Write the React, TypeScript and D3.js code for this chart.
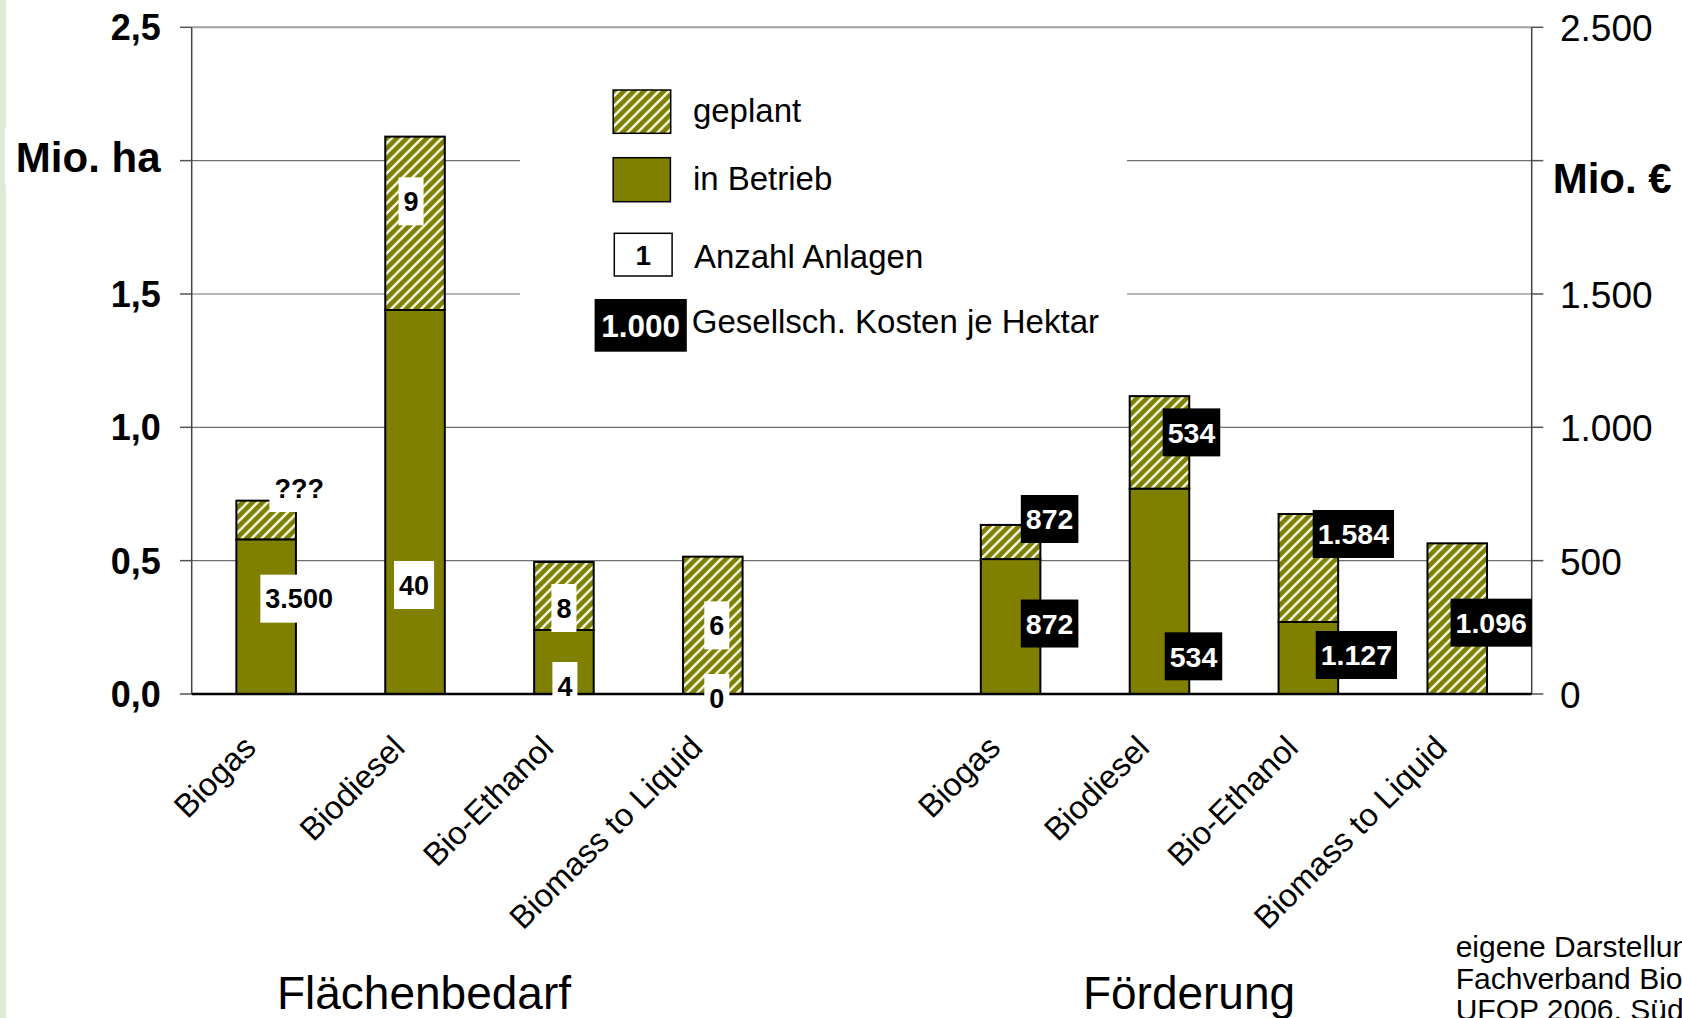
import React, { useEffect, useRef } from 'react';
import * as d3 from 'd3';

const W = 1682;
const H = 1018;

// categories per group
const categories = ['Biogas', 'Biodiesel', 'Bio-Ethanol', 'Biomass to Liquid'];
const groupNames = ['Flächenbedarf', 'Förderung'];

// Flächenbedarf (Mio. ha)
const areaInOperation = [0.58, 1.44, 0.24, 0];
const areaPlanned = [0.145, 0.65, 0.255, 0.515];

// Förderung (Mio. €)
const fundingInOperation = [506, 770, 270, 0];
const fundingPlanned = [128, 347, 405, 565];

// Anzahl Anlagen (white boxes)
const plantsInOperation = ['3.500', '40', '4', '0'];
const plantsPlanned = ['???', '9', '8', '6'];

// Gesellsch. Kosten je Hektar (black boxes)
const costInOperation = ['872', '534', '1.127', ''];
const costPlanned = ['872', '534', '1.584', '1.096'];

const leftTicks = [0, 0.5, 1.0, 1.5, 2.0, 2.5];
const rightTicks = [0, 500, 1000, 1500, 2000, 2500];

// label placement: [dx from bar centre, dy from segment middle]
const plantOffsetsOp = [[33, -18], [-1, 83], [1, 24], [4, 4]];
const plantOffsetsPl = [[33, -32], [-4, -22], [0, 12], [4, 0]];
const costOffsetsOp = [[39, -3], [34, 65], [48, -3], [0, 0]];
const costOffsetsPl = [[39, -23], [32, -10], [45, -34], [34, 4]];

const OLIVE = '#808000';
const FONT = '"Liberation Sans", Arial, Helvetica, sans-serif';

export default function App() {
  const svgRef = useRef<SVGSVGElement>(null);

  useEffect(() => {
    if (!svgRef.current) return;
    const svg = d3.select(svgRef.current);
    svg.selectAll('*').remove();
    svg.style('font-family', FONT);

    const de = d3.formatLocale({ decimal: ',', thousands: '.', grouping: [3], currency: ['', ' €'] });
    const fmtLeft = de.format('.1f');
    const fmtRight = de.format(',d');

    const plotLeft = 191.7;
    const plotRight = 1531.7;
    const plotTop = 27.3;
    const plotBottom = 694;

    // 4 + gap + 4 slots
    const slots = [...categories.map((_, i) => `L${i}`), 'gap', ...categories.map((_, i) => `R${i}`)];
    const x = d3.scaleBand().domain(slots).range([plotLeft, plotRight]).paddingInner(0.6).paddingOuter(0.3);
    const yL = d3.scaleLinear().domain([0, 2.5]).range([plotBottom, plotTop]);
    const yR = d3.scaleLinear().domain([0, 2500]).range([plotBottom, plotTop]);

    // hatch pattern
    const defs = svg.append('defs');
    const pat = defs.append('pattern')
      .attr('id', 'hatch')
      .attr('patternUnits', 'userSpaceOnUse')
      .attr('width', 10)
      .attr('height', 10);
    pat.append('rect').attr('width', 10).attr('height', 10).attr('fill', OLIVE);
    pat.append('path')
      .attr('d', 'M-2,2 L2,-2 M0,10 L10,0 M8,12 L12,8')
      .attr('stroke', '#eef4dc')
      .attr('stroke-width', 2.6);

    svg.append('rect').attr('width', W).attr('height', H).attr('fill', '#fff');
    // left decorative strip
    svg.append('rect').attr('x', 0).attr('y', 0).attr('width', 6).attr('height', H).attr('fill', '#e0ead8');

    // gridlines
    const grid = svg.append('g');
    grid.selectAll('line')
      .data(leftTicks.filter(t => t > 0))
      .enter()
      .append('line')
      .attr('x1', plotLeft)
      .attr('x2', plotRight)
      .attr('y1', d => yL(d))
      .attr('y2', d => yL(d))
      .attr('stroke', d => d === 2.5 ? '#a0a0a0' : '#707070')
      .attr('stroke-width', d => d === 2.5 ? 2 : 1.2);

    // legend background interrupts gridlines
    svg.append('rect').attr('x', 520).attr('y', 75).attr('width', 607).attr('height', 285).attr('fill', '#fff');

    // ticks
    svg.append('g').selectAll('line')
      .data(leftTicks)
      .enter()
      .append('line')
      .attr('x1', 180).attr('x2', plotLeft)
      .attr('y1', d => yL(d)).attr('y2', d => yL(d))
      .attr('stroke', '#555').attr('stroke-width', 1.5);
    svg.append('g').selectAll('line')
      .data(rightTicks)
      .enter()
      .append('line')
      .attr('x1', plotRight).attr('x2', 1543.3)
      .attr('y1', d => yR(d)).attr('y2', d => yR(d))
      .attr('stroke', '#555').attr('stroke-width', 1.5);

    // bars
    type Seg = { slot: string; y0: number; y1: number; planned: boolean };
    const segs: Seg[] = [];
    categories.forEach((_, i) => {
      segs.push({ slot: `L${i}`, y0: yL(0), y1: yL(areaInOperation[i]), planned: false });
      segs.push({ slot: `L${i}`, y0: yL(areaInOperation[i]), y1: yL(areaInOperation[i] + areaPlanned[i]), planned: true });
      segs.push({ slot: `R${i}`, y0: yR(0), y1: yR(fundingInOperation[i]), planned: false });
      segs.push({ slot: `R${i}`, y0: yR(fundingInOperation[i]), y1: yR(fundingInOperation[i] + fundingPlanned[i]), planned: true });
    });
    svg.append('g').selectAll('rect')
      .data(segs.filter(s => s.y0 - s.y1 > 0.1))
      .enter()
      .append('rect')
      .attr('x', d => x(d.slot)!)
      .attr('width', x.bandwidth())
      .attr('y', d => d.y1)
      .attr('height', d => d.y0 - d.y1)
      .attr('fill', d => d.planned ? 'url(#hatch)' : OLIVE)
      .attr('stroke', '#000')
      .attr('stroke-width', 2);

    // axes
    svg.append('line').attr('x1', plotLeft).attr('x2', plotLeft).attr('y1', plotTop).attr('y2', plotBottom)
      .attr('stroke', '#444').attr('stroke-width', 1.5);
    svg.append('line').attr('x1', plotRight).attr('x2', plotRight).attr('y1', plotTop).attr('y2', plotBottom)
      .attr('stroke', '#444').attr('stroke-width', 1.5);
    svg.append('line').attr('x1', plotLeft).attr('x2', plotRight).attr('y1', plotBottom).attr('y2', plotBottom)
      .attr('stroke', '#000').attr('stroke-width', 2.5);

    // tick labels
    svg.append('g').selectAll('text')
      .data(leftTicks.filter(t => t !== 2.0))
      .enter()
      .append('text')
      .attr('x', 160.7)
      .attr('y', d => yL(d))
      .attr('dy', '0.36em')
      .attr('text-anchor', 'end')
      .style('font-size', '36px')
      .style('font-weight', 'bold')
      .text(d => fmtLeft(d));
    svg.append('g').selectAll('text')
      .data(rightTicks.filter(t => t !== 2000))
      .enter()
      .append('text')
      .attr('x', 1560)
      .attr('y', d => yR(d))
      .attr('dy', '0.38em')
      .style('font-size', '37px')
      .text(d => fmtRight(d));

    // unit labels
    svg.append('rect').attr('x', 5).attr('y', 128).attr('width', 162).attr('height', 57).attr('fill', '#fff');
    svg.append('text').attr('x', 160.5).attr('y', 171.7).attr('text-anchor', 'end')
      .style('font-size', '42px').style('font-weight', 'bold').text('Mio. ha');
    svg.append('text').attr('x', 1552.7).attr('y', 193)
      .style('font-size', '42px').style('font-weight', 'bold').text('Mio. €');

    // boxed value labels
    const boxLabel = (cx: number, cy: number, txt: string, dark: boolean) => {
      if (!txt) return;
      const g = svg.append('g');
      const rect = g.append('rect');
      const t = g.append('text')
        .attr('x', cx)
        .attr('y', cy)
        .attr('dy', '0.36em')
        .attr('text-anchor', 'middle')
        .style('font-size', dark ? '28.5px' : '27px')
        .style('font-weight', 'bold')
        .style('fill', dark ? '#fff' : '#000')
        .text(txt);
      const w = (t.node() as SVGTextElement).getComputedTextLength() + 10;
      rect.attr('x', cx - w / 2).attr('y', cy - 24).attr('width', w).attr('height', 48)
        .attr('fill', dark ? '#000' : '#fff');
    };

    categories.forEach((_, i) => {
      const cl = x(`L${i}`)! + x.bandwidth() / 2;
      const cr = x(`R${i}`)! + x.bandwidth() / 2;
      const opL = areaInOperation[i];
      const plL = areaPlanned[i];
      boxLabel(cl + plantOffsetsOp[i][0], (yL(0) + yL(opL)) / 2 + plantOffsetsOp[i][1], plantsInOperation[i], false);
      boxLabel(cl + plantOffsetsPl[i][0], (yL(opL) + yL(opL + plL)) / 2 + plantOffsetsPl[i][1], plantsPlanned[i], false);
      const opR = fundingInOperation[i];
      const plR = fundingPlanned[i];
      boxLabel(cr + costOffsetsOp[i][0], (yR(0) + yR(opR)) / 2 + costOffsetsOp[i][1], costInOperation[i], true);
      boxLabel(cr + costOffsetsPl[i][0], (yR(opR) + yR(opR + plR)) / 2 + costOffsetsPl[i][1], costPlanned[i], true);
    });

    // category labels
    const catG = svg.append('g');
    slots.filter(s => s !== 'gap').forEach(s => {
      const i = +s.slice(1);
      const cx = x(s)! + x.bandwidth() / 2;
      catG.append('text')
        .attr('transform', `translate(${cx - 25},733) rotate(-45)`)
        .attr('dy', '0.72em')
        .attr('text-anchor', 'end')
        .style('font-size', '32.5px')
        .text(categories[i]);
    });

    // group labels
    const groupX = [424, 1189];
    groupNames.forEach((g, i) => {
      svg.append('text').attr('x', groupX[i]).attr('y', 1009).attr('text-anchor', 'middle')
        .style('font-size', '46px').text(g);
    });

    // legend
    const leg = svg.append('g');
    leg.append('rect').attr('x', 613.2).attr('y', 90).attr('width', 57.5).attr('height', 43.3)
      .attr('fill', 'url(#hatch)').attr('stroke', '#000').attr('stroke-width', 1.5);
    leg.append('rect').attr('x', 613.2).attr('y', 157.7).attr('width', 57.2).attr('height', 44)
      .attr('fill', OLIVE).attr('stroke', '#000').attr('stroke-width', 1.5);
    leg.append('rect').attr('x', 614.3).attr('y', 233.3).attr('width', 57.8).attr('height', 42.7)
      .attr('fill', '#fff').attr('stroke', '#000').attr('stroke-width', 1.5);
    leg.append('text').attr('x', 643.2).attr('y', 265).attr('text-anchor', 'middle')
      .style('font-size', '28px').style('font-weight', 'bold').text('1');
    leg.append('rect').attr('x', 594.6).attr('y', 299).attr('width', 92.2).attr('height', 52.7).attr('fill', '#000');
    leg.append('text').attr('x', 640.7).attr('y', 336.5).attr('text-anchor', 'middle')
      .style('font-size', '31.5px').style('font-weight', 'bold').style('fill', '#fff').text('1.000');
    const legendItems = [
      { label: 'geplant', x: 692.9, y: 121.7 },
      { label: 'in Betrieb', x: 692.9, y: 190 },
      { label: 'Anzahl Anlagen', x: 693.9, y: 268.3 },
      { label: 'Gesellsch. Kosten je Hektar', x: 691.8, y: 333.3 },
    ];
    leg.selectAll('text.item')
      .data(legendItems)
      .enter()
      .append('text')
      .attr('class', 'item')
      .attr('x', d => d.x)
      .attr('y', d => d.y)
      .style('font-size', '33px')
      .text(d => d.label);

    // source note (cut off at the right edge, as in the original slide)
    const source = ['eigene Darstellung nach', 'Fachverband Biogas,', 'UFOP 2006, Südzucker'];
    svg.append('g').selectAll('text')
      .data(source)
      .enter()
      .append('text')
      .attr('x', 1455.7)
      .attr('y', (_d, i) => 957 + i * 31.5)
      .style('font-size', '30px')
      .text(d => d);
  }, []);

  return (
    <svg
      ref={svgRef}
      width={W}
      height={H}
      style={{ position: 'absolute', left: 0, top: 0, display: 'block' }}
    />
  );
}
